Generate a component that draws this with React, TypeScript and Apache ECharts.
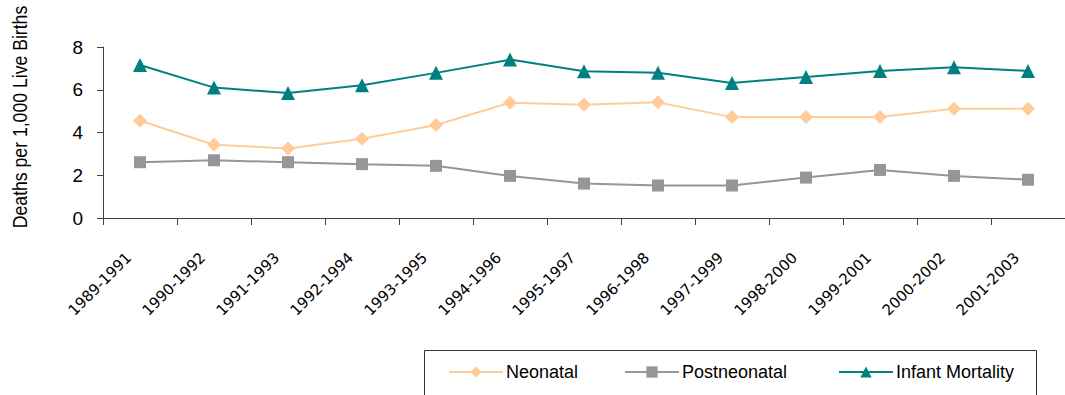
import React, { useEffect, useRef } from "react";
import * as echarts from "echarts";

const categories = [
  "1989-1991", "1990-1992", "1991-1993", "1992-1994", "1993-1995", "1994-1996",
  "1995-1997", "1996-1998", "1997-1999", "1998-2000", "1999-2001", "2000-2002", "2001-2003",
];
const neonatal = [4.55, 3.43, 3.25, 3.71, 4.35, 5.39, 5.3, 5.41, 4.72, 4.72, 4.72, 5.11, 5.11];
const postneonatal = [2.61, 2.7, 2.61, 2.52, 2.44, 1.97, 1.61, 1.52, 1.52, 1.89, 2.25, 1.97, 1.79];
const infantMortality = [7.16, 6.1, 5.85, 6.21, 6.79, 7.41, 6.87, 6.8, 6.32, 6.6, 6.88, 7.05, 6.88];
const yTicks = { min: 0, max: 8, interval: 2 };
const yTitle = "Deaths per 1,000 Live Births";

const SANS = "'Liberation Sans', Arial, sans-serif";

export default function App() {
  const ref = useRef<HTMLDivElement>(null);
  useEffect(() => {
    if (!ref.current) return;
    const chart = echarts.init(ref.current, undefined, { renderer: "svg" });
    const legendText = { fontFamily: SANS, fontSize: 18, lineHeight: 18, color: "#000", padding: [0, 0, 0, -2] };
    const legendCommon = { top: 363, itemWidth: 54, itemHeight: 14, itemGap: 0, padding: 0, textStyle: legendText };
    chart.setOption({
      animation: false,
      backgroundColor: "#fff",
      grid: { left: 103, right: -4, top: 47, bottom: 177 },
      legend: [
        { ...legendCommon, data: ["Neonatal"], left: 448 },
        { ...legendCommon, data: ["Postneonatal"], left: 624 },
        { ...legendCommon, data: ["Infant Mortality"], left: 838 },
      ],
      graphic: [
        { type: "rect", shape: { x: 424.5, y: 350.5, width: 612, height: 80 }, style: { fill: "none", stroke: "#333", lineWidth: 1 } },
        {
          type: "text",
          x: 19,
          y: 117,
          rotation: Math.PI / 2,
          scaleX: 0.84,
          style: { text: yTitle, fontFamily: SANS, fontSize: 21, fill: "#000", align: "center", verticalAlign: "middle" },
        },
      ],
      xAxis: {
        type: "category",
        data: categories,
        boundaryGap: true,
        axisLine: { lineStyle: { color: "#404040", width: 1 } },
        axisTick: { show: true, alignWithLabel: false, length: 7, lineStyle: { color: "#404040" } },
        axisLabel: {
          rotate: 45,
          interval: 0,
          margin: 26,
          padding: [0, 16, 0, 0],
          fontFamily: "'DejaVu Sans', sans-serif",
          fontSize: 15,
          color: "#000",
        },
      },
      yAxis: {
        type: "value",
        min: yTicks.min,
        max: yTicks.max,
        interval: yTicks.interval,
        splitLine: { show: false },
        axisLine: { show: true, lineStyle: { color: "#404040", width: 1 } },
        axisTick: { show: true, length: 6, lineStyle: { color: "#404040" } },
        axisLabel: { margin: 20, fontFamily: SANS, fontSize: 19, color: "#000" },
      },
      series: [
        {
          name: "Neonatal",
          type: "line",
          data: neonatal,
          symbol: "diamond",
          symbolSize: 14,
          color: "#FFCC99",
          lineStyle: { color: "#FFCC99", width: 2 },
          itemStyle: { color: "#FFCC99" },
        },
        {
          name: "Postneonatal",
          type: "line",
          data: postneonatal,
          symbol: "rect",
          symbolSize: 12,
          color: "#969696",
          lineStyle: { color: "#969696", width: 2 },
          itemStyle: { color: "#969696" },
        },
        {
          name: "Infant Mortality",
          type: "line",
          data: infantMortality,
          symbol: "triangle",
          symbolSize: 14,
          color: "#008080",
          lineStyle: { color: "#008080", width: 2 },
          itemStyle: { color: "#008080" },
        },
      ],
    });
    return () => chart.dispose();
  }, []);
  return (
    <div
      ref={ref}
      style={{ position: "absolute", left: 0, top: 0, width: 1065, height: 395 }}
    />
  );
}
